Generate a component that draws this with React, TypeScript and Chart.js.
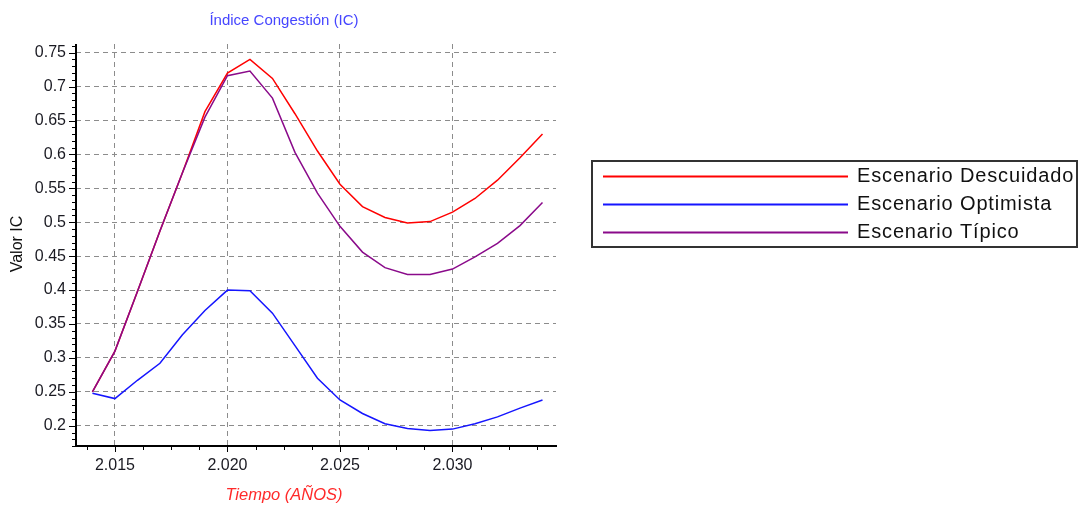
import React, { useEffect, useRef } from "react";
import { Chart, registerables } from "chart.js";

Chart.register(...registerables);

const years = [2014, 2015, 2016, 2017, 2018, 2019, 2020, 2021, 2022, 2023, 2024, 2025, 2026, 2027, 2028, 2029, 2030, 2031, 2032, 2033, 2034];
const descuidado = [0.25, 0.31, 0.398, 0.487, 0.573, 0.663, 0.72, 0.74, 0.712, 0.66, 0.605, 0.556, 0.523, 0.507, 0.499, 0.501, 0.515, 0.535, 0.562, 0.595, 0.63];
const optimista = [0.248, 0.24, 0.267, 0.292, 0.334, 0.37, 0.4, 0.399, 0.366, 0.318, 0.27, 0.238, 0.218, 0.203, 0.196, 0.193, 0.195, 0.203, 0.213, 0.226, 0.238];
const tipico = [0.25, 0.31, 0.398, 0.487, 0.573, 0.655, 0.716, 0.723, 0.683, 0.603, 0.543, 0.494, 0.456, 0.433, 0.423, 0.423, 0.431, 0.449, 0.469, 0.495, 0.529];

const seriesLabels = ["Escenario Descuidado", "Escenario Optimista", "Escenario Típico"];
const seriesColors = ["#ff0000", "#1515ff", "#8a0a8a"];
const xTicks = [2015, 2020, 2025, 2030];
const yTicks = [0.2, 0.25, 0.3, 0.35, 0.4, 0.45, 0.5, 0.55, 0.6, 0.65, 0.7, 0.75];

const chartTitle = "Índice Congestión (IC)";
const xTitle = "Tiempo (AÑOS)";
const yTitle = "Valor IC";

const X_MIN = 2013.27;
const X_MAX = 2034.6;
const Y_MIN = 0.1701;
const Y_MAX = 0.7628;

const fmtYear = (v: number) => String(Math.round(v)).replace(/\B(?=(\d{3})+(?!\d))/g, ".");
const fmtVal = (v: number) => String(Number(v.toFixed(2)));

const decorPlugin = {
  id: "decor",
  afterDraw(chart: any) {
    const ctx = chart.ctx as CanvasRenderingContext2D;
    const { left, right, top, bottom } = chart.chartArea;
    const xs = chart.scales.x;
    const ys = chart.scales.y;
    ctx.save();
    // axes
    ctx.strokeStyle = "#000";
    ctx.lineWidth = 2;
    ctx.beginPath();
    ctx.moveTo(left, top);
    ctx.lineTo(left, bottom);
    ctx.lineTo(right + 1, bottom);
    ctx.stroke();
    ctx.lineWidth = 1;
    // y ticks
    for (let i = 17; i <= 76; i++) {
      const v = i / 100;
      const y = Math.round(ys.getPixelForValue(v)) + 0.5;
      const major = i % 5 === 0;
      ctx.beginPath();
      ctx.moveTo(left - (major ? 7 : 4), y);
      ctx.lineTo(left, y);
      ctx.stroke();
    }
    // x ticks
    for (let v = 2013.75; v <= X_MAX; v += 1.25) {
      const x = Math.round(xs.getPixelForValue(v)) + 0.5;
      const major = Math.abs(v % 5) < 1e-6;
      ctx.beginPath();
      ctx.moveTo(x, bottom);
      ctx.lineTo(x, bottom + (major ? 6 : 4));
      ctx.stroke();
    }
    // titles
    ctx.textAlign = "center";
    ctx.textBaseline = "middle";
    ctx.fillStyle = "#4646ff";
    ctx.font = "15px 'Liberation Sans', Arial, sans-serif";
    ctx.fillText(chartTitle, 284, 21);
    ctx.fillStyle = "#ff2a2a";
    ctx.font = "italic 16.5px 'Liberation Sans', Arial, sans-serif";
    ctx.fillText(xTitle, 284, 495);
    ctx.save();
    ctx.translate(18, 244);
    ctx.rotate(-Math.PI / 2);
    ctx.fillStyle = "#111";
    ctx.font = "16px 'Liberation Sans', Arial, sans-serif";
    ctx.fillText(yTitle, 0, 0);
    ctx.restore();
    // legend
    ctx.fillStyle = "#fff";
    ctx.fillRect(592, 161, 485, 86);
    ctx.strokeStyle = "#333";
    ctx.lineWidth = 2;
    ctx.strokeRect(592, 161, 485, 86);
    const ds = chart.data.datasets;
    const order = [0, 1, 2];
    order.forEach((di, i) => {
      const y = 176.5 + i * 28;
      ctx.strokeStyle = ds[di].borderColor;
      ctx.lineWidth = 2;
      ctx.beginPath();
      ctx.moveTo(603, y);
      ctx.lineTo(848, y);
      ctx.stroke();
      ctx.fillStyle = "#111";
      ctx.textAlign = "left";
      ctx.textBaseline = "middle";
      ctx.font = "20px 'Liberation Sans', Arial, sans-serif";
      (ctx as any).letterSpacing = "0.85px";
      ctx.fillText(ds[di].label, 857, y);
      (ctx as any).letterSpacing = "0px";
    });
    ctx.restore();
  },
};

export default function App() {
  const ref = useRef<HTMLCanvasElement | null>(null);
  useEffect(() => {
    document.body.style.margin = "0";
    const canvas = ref.current!;
    const seriesValues = [descuidado, optimista, tipico];
    const drawOrder = [2, 1, 0];
    const chart = new Chart(canvas, {
      type: "line",
      data: {
        datasets: seriesValues.map((vals, i) => ({
          label: seriesLabels[i],
          data: years.map((yr, j) => ({ x: yr, y: vals[j] })),
          borderColor: seriesColors[i],
          backgroundColor: seriesColors[i],
          borderWidth: 1.5,
          pointRadius: 0,
          tension: 0,
          fill: false,
          order: drawOrder[i],
        })),
      },
      options: {
        responsive: false,
        animation: false,
        devicePixelRatio: 1,
        layout: { padding: { top: 44, right: 523, left: 0, bottom: 0 } },
        plugins: {
          legend: { display: false },
          title: { display: false },
          tooltip: { enabled: false },
        },
        scales: {
          x: {
            type: "linear",
            min: X_MIN,
            max: X_MAX,
            afterBuildTicks: (s: any) => {
              s.ticks = xTicks.map((v) => ({ value: v }));
            },
            afterFit: (s: any) => {
              s.height = 60;
            },
            ticks: {
              callback: (v: any) => fmtYear(Number(v)),
              font: { family: "'Liberation Sans', Arial, sans-serif", size: 16 },
              color: "#1a1a22",
              padding: 10,
              maxRotation: 0,
              autoSkip: false,
            },
            grid: { color: "#8c8c8c", lineWidth: 1, drawTicks: false },
            border: { display: false, dash: [5, 4] },
          },
          y: {
            type: "linear",
            min: Y_MIN,
            max: Y_MAX,
            afterBuildTicks: (s: any) => {
              s.ticks = yTicks.map((v) => ({ value: v }));
            },
            afterFit: (s: any) => {
              s.width = 76;
            },
            ticks: {
              callback: (v: any) => fmtVal(Number(v)),
              font: { family: "'Liberation Sans', Arial, sans-serif", size: 16 },
              color: "#1a1a22",
              padding: 10,
              autoSkip: false,
            },
            grid: { color: "#8c8c8c", lineWidth: 1, drawTicks: false },
            border: { display: false, dash: [5, 4] },
          },
        },
      },
      plugins: [decorPlugin],
    } as any);
    return () => chart.destroy();
  }, []);
  return (
    <div style={{ position: "absolute", left: 0, top: 0, width: 1079, height: 506, background: "#fff" }}>
      <canvas ref={ref} width={1079} height={506} style={{ width: 1079, height: 506, display: "block" }} />
    </div>
  );
}
